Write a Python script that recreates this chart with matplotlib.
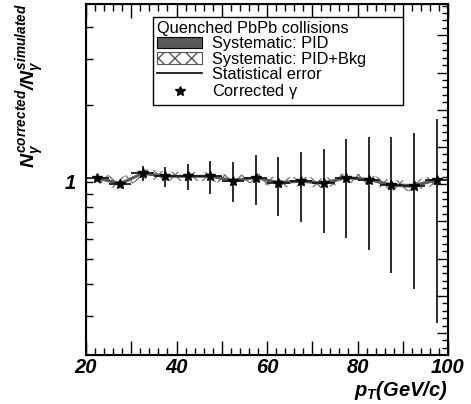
import matplotlib
matplotlib.use('Agg')
import numpy as np
import matplotlib.pyplot as plt
from matplotlib.patches import Patch
from matplotlib.lines import Line2D
from matplotlib.ticker import FixedLocator, MultipleLocator, LogLocator, NullFormatter, FuncFormatter

plt.rcParams['font.family'] = ['Liberation Sans', 'DejaVu Sans']
plt.rcParams['font.style'] = 'italic'
plt.rcParams['font.weight'] = 'bold'
plt.rcParams['mathtext.fontset'] = 'custom'
plt.rcParams['mathtext.rm'] = 'Liberation Sans:italic:bold'
plt.rcParams['mathtext.it'] = 'Liberation Sans:italic:bold'
plt.rcParams['mathtext.bf'] = 'Liberation Sans:italic:bold'
plt.rcParams['hatch.linewidth'] = 1.0

# data
pt = np.array([22.5, 27.5, 32.5, 37.5, 42.5, 47.5, 52.5, 57.5,
               62.5, 67.5, 72.5, 77.5, 82.5, 87.5, 92.5, 97.5])
ratio = np.array([1.038, 0.984, 1.080, 1.053, 1.052, 1.052, 1.013, 1.040,
                  0.994, 1.007, 0.989, 1.040, 1.022, 0.972, 0.966, 1.021])
stat_err = np.array([0.010, 0.020, 0.071, 0.095, 0.122, 0.155, 0.180, 0.230,
                     0.260, 0.306, 0.356, 0.434, 0.478, 0.530, 0.584, 0.739])
sys_pid = np.array([0.014, 0.016, 0.015, 0.014, 0.014, 0.014, 0.014, 0.014,
                    0.014, 0.014, 0.014, 0.015, 0.014, 0.015, 0.016, 0.015])
sys_bkg = np.array([0.045, 0.055, 0.048, 0.044, 0.043, 0.043, 0.044, 0.043,
                    0.044, 0.043, 0.044, 0.045, 0.044, 0.046, 0.047, 0.046])
bin_half = 2.5

fig = plt.figure(figsize=(4.71, 4.04), dpi=100)
ax = fig.add_axes([0.1826, 0.1213, 0.7686, 0.8688])

# systematic bands
ax.fill_between(pt, ratio - sys_bkg, ratio + sys_bkg, facecolor='none',
                edgecolor='#7a7a7a', hatch='xx', linewidth=0, zorder=2)
ax.fill_between(pt, ratio - sys_pid, ratio + sys_pid, facecolor='#5a5a5a',
                linewidth=0, zorder=3)

# points with statistical errors
ax.errorbar(pt, ratio, xerr=bin_half, yerr=stat_err, fmt='*', color='black',
            ecolor='#1a1a1a', ms=7.5, lw=1.3, capsize=0, zorder=4)

ax.set_xlim(20, 100)
ax.set_yscale('log')
ax.set_ylim(0.212, 4.93)

ax.xaxis.set_major_locator(MultipleLocator(10))
ax.xaxis.set_minor_locator(MultipleLocator(2))
ax.xaxis.set_major_formatter(FuncFormatter(lambda v, p: f'{v:.0f}' if round(v) % 20 == 0 else ''))
ax.yaxis.set_major_locator(LogLocator(base=10))
ax.yaxis.set_minor_locator(LogLocator(base=10, subs=np.arange(2, 10)))
ax.yaxis.set_major_formatter(FuncFormatter(lambda v, p: f'{v:g}'))
ax.yaxis.set_minor_formatter(NullFormatter())

ax.tick_params(axis='x', which='both', direction='in', top=True, bottom=True,
               labelsize=14.5, pad=2)
ax.tick_params(axis='x', which='major', length=10, width=1)
ax.tick_params(axis='x', which='minor', length=5, width=1)
ax.tick_params(axis='y', which='both', direction='in', left=True, right=False,
               length=5, width=1, labelsize=14.5, pad=7)
for s in ax.spines.values():
    s.set_linewidth(1.5)

# right-hand axis with its own linear ticks
ax2 = ax.twinx()
ax2.set_ylim(0, 1)
ax2.yaxis.set_major_locator(FixedLocator(np.arange(0.0627, 1.0, 0.106)))
ax2.yaxis.set_minor_locator(FixedLocator(np.arange(0.0627 % 0.0212, 1.0, 0.0212)))
ax2.tick_params(axis='y', which='both', direction='in', labelright=False, width=1)
ax2.tick_params(axis='y', which='major', length=8)
ax2.tick_params(axis='y', which='minor', length=4)

# legend
handles = [Patch(facecolor='#5a5a5a', edgecolor='black', linewidth=0.8),
           Patch(facecolor='white', edgecolor='#555555', hatch='xx', linewidth=0.8),
           Line2D([], [], color='black', lw=1.2),
           Line2D([], [], color='black', marker='*', ls='none', ms=7)]
labels = ['Systematic: PID', 'Systematic: PID+Bkg', 'Statistical error', r'Corrected $\mathregular{\gamma}$']
prop = dict(family='Liberation Sans', size=11.8, style='normal', weight='normal')
leg = ax2.legend(handles, labels, title='Quenched PbPb collisions', loc='upper left',
                 bbox_to_anchor=(0.185, 0.963, 0.691, 0.0), mode='expand',
                 fancybox=False, edgecolor='black', framealpha=1, borderaxespad=0,
                 prop=prop, title_fontproperties=prop, alignment='left',
                 handlelength=2.75, handletextpad=0.6, labelspacing=0.02, borderpad=0.25)
leg.get_frame().set_linewidth(1)

fig.text(31 / 471, 1 - 3 / 404, r'$N_{\gamma}^{corrected}/N_{\gamma}^{simulated}$',
         rotation=90, ha='center', va='top', fontsize=14)
fig.text(448 / 471, 1 - 391 / 404, r'$p_{T}(GeV/c)$', ha='right', va='center',
         fontsize=14.5)

fig.savefig('out.png', dpi=100)
